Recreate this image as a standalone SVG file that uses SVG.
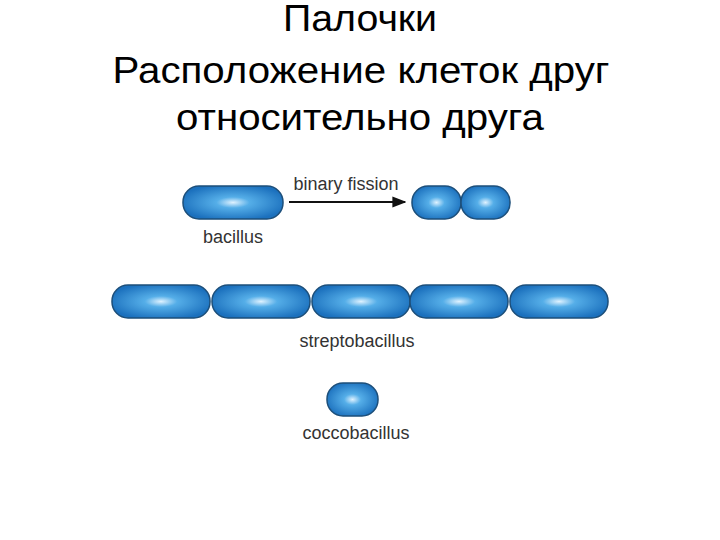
<svg xmlns="http://www.w3.org/2000/svg" width="720" height="540" viewBox="0 0 720 540">
<style>
.t{font-family:"Liberation Sans",Arial,sans-serif;font-size:36px;fill:#000;text-anchor:middle}
.l{font-family:"Liberation Sans",Arial,sans-serif;font-size:18px;fill:#333}
.c{fill:url(#g);stroke:#1d4f7a;stroke-width:1.5}
</style>
<defs>
<radialGradient id="g" cx="0.5" cy="0.5" r="0.55">
<stop offset="0" stop-color="#dff2ff"/>
<stop offset="0.3" stop-color="#55aee8"/>
<stop offset="1" stop-color="#1b70bd"/>
</radialGradient>
<marker id="a" viewBox="0 0 10 10" refX="9" refY="5" markerWidth="7" markerHeight="7" orient="auto"><path d="M0,1 L10,5 L0,9 z" fill="#111"/></marker>
</defs>
<rect width="720" height="540" fill="#fff"/>
<g id="title">
<text class="t" x="360" y="31" textLength="154" lengthAdjust="spacingAndGlyphs">Палочки</text>
<text class="t" x="361" y="83" textLength="497" lengthAdjust="spacingAndGlyphs">Расположение клеток друг</text>
<text class="t" x="360" y="130" textLength="368" lengthAdjust="spacingAndGlyphs">относительно друга</text>
</g>
<g id="bacillus">
<rect class="c" x="183" y="186" width="100" height="33" rx="16"/>
<text class="l" x="233" y="243" text-anchor="middle">bacillus</text>
</g>
<g id="daughters">
<rect class="c" x="412" y="186" width="49" height="33" rx="16"/>
<rect class="c" x="461" y="186" width="49" height="33" rx="16"/>
</g>
<g id="connectors">
<line x1="289" y1="202" x2="405" y2="202" stroke="#111" stroke-width="2" marker-end="url(#a)"/>
<text class="l" x="346" y="190" text-anchor="middle">binary fission</text>
</g>
<g id="streptobacillus">
<rect class="c" x="112" y="285" width="98" height="33" rx="16"/>
<rect class="c" x="212" y="285" width="98" height="33" rx="16"/>
<rect class="c" x="312" y="285" width="98" height="33" rx="16"/>
<rect class="c" x="410" y="285" width="98" height="33" rx="16"/>
<rect class="c" x="510" y="285" width="98" height="33" rx="16"/>
<text class="l" x="357" y="347" text-anchor="middle">streptobacillus</text>
</g>
<g id="coccobacillus">
<rect class="c" x="327" y="383" width="51" height="33" rx="16"/>
<text class="l" x="356" y="439" text-anchor="middle">coccobacillus</text>
</g>
</svg>
